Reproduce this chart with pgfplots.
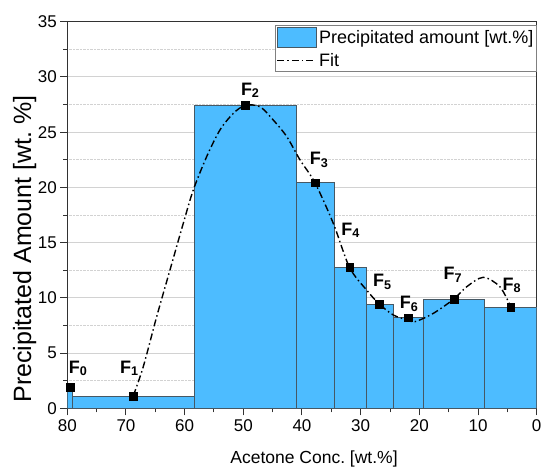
\documentclass[border=0pt]{standalone}
\usepackage{fontspec}
\setmainfont{Liberation Sans}
\usepackage{pgfplots}
\pgfplotsset{compat=1.18}
\usepackage{pgfplotstable}
\frenchspacing

\definecolor{barblue}{RGB}{77,188,255}
\definecolor{baredge}{RGB}{70,88,100}
\definecolor{axisgray}{RGB}{50,50,50}
\definecolor{gridgray}{RGB}{210,210,210}

\tikzset{
  barstyle/.style={fill=barblue, draw=baredge, line width=0.6pt},
  fitstyle/.style={black, line width=1.4pt, dash pattern=on 7pt off 3pt on 1.5pt off 3pt},
}
\pgfplotsset{
  bar legend/.style={legend image code/.code={\draw[barstyle] (0pt,-10pt) rectangle (39pt,10pt);}},
  fit legend/.style={legend image code/.code={\draw[fitstyle] (0pt,0pt) -- (39pt,0pt);}},
}

% fraction marks F0..F8 with label offsets (pt)
\pgfplotstableread{
x     y     dx   dy   lab
79.5  1.90  8    19   0
68.75 1.08  -4   28   1
49.67 27.43 5    15   2
37.75 20.42 4    23   3
31.9  12.76 1    37   4
26.83 9.44  3    22   5
21.9  8.20  1    14   6
14.1  9.90  -1   24   7
4.4   9.14  1    22   8
}\fractions

% fitted curve through the fractions
\pgfplotstableread{
x     y
68.75 1.14
67.05 3.77
64.77 8.29
62.5  12.52
60.23 16.75
58.53 19.76
56.25 22.78
53.98 25.20
51.7  26.70
49.67 27.43
47.17 27.30
44.9  26.10
42.6  24.60
40.35 22.50
37.79 20.42
34.67 16.75
31.9  12.76
28.98 10.70
26.83 9.44
24.44 8.45
22.05 8.00
20.7  7.85
17.6  8.60
14.1  9.90
11.94 11.00
9.1   11.86
6.26  11.00
4.43  9.20
}\fitcurve

\begin{document}
\begin{tikzpicture}
\useasboundingbox (-67.3pt,-58.7pt) rectangle (473.7pt,408.3pt);
\begin{axis}[
  scale only axis,
  width=469.4pt, height=386.6pt,
  xmin=0, xmax=80, x dir=reverse,
  ymin=0, ymax=35,
  xtick={0,10,...,80}, ytick={0,5,...,35},
  minor x tick num=1, minor y tick num=1,
  tick align=outside,
  xtick pos=bottom, ytick pos=left,
  major tick length=7pt, minor tick length=4pt,
  every tick/.style={axisgray, line width=1pt},
  axis line style={axisgray, line width=1.3pt},
  ymajorgrids, yminorgrids,
  major grid style={gridgray, line width=0.9pt},
  minor grid style={gridgray, densely dotted, line width=0.7pt},
  /pgf/number format/assume math mode=true,
  tick label style={font=\fontsize{17}{20}\selectfont},
  xticklabel style={yshift=-1pt},
  yticklabel style={xshift=0pt},
  xlabel={Acetone Conc. [wt.\%]},
  ylabel={Precipitated Amount [wt. \%]},
  xlabel style={font=\fontsize{17.5}{20}\selectfont, at={(axis description cs:0.5256,-0.1415)}, anchor=base},
  ylabel style={font=\fontsize{25}{29}\selectfont, at={(axis description cs:-0.0773,0.412)}, anchor=base},
  legend style={at={(axis description cs:1,1)}, anchor=north east, yshift=-3.3pt,
    draw=gray, fill=white, line width=0.8pt, font=\fontsize{18}{21}\selectfont,
    inner xsep=1pt, inner ysep=2pt, row sep=3pt},
  legend cell align=left,
]
% bars, one rectangle per concentration interval
\addplot[barstyle, bar legend]
  coordinates {(80,0) (80,1.90) (79.2,1.90) (79.2,0)} -- cycle;
\addlegendentry{Precipitated amount [wt.\%]}
\addplot[barstyle, forget plot]
  coordinates {(79.2,0) (79.2,1.08) (58.4,1.08) (58.4,0)} -- cycle;
\addplot[barstyle, forget plot]
  coordinates {(58.4,0) (58.4,27.43) (40.9,27.43) (40.9,0)} -- cycle;
\addplot[barstyle, forget plot]
  coordinates {(40.9,0) (40.9,20.42) (34.55,20.42) (34.55,0)} -- cycle;
\addplot[barstyle, forget plot]
  coordinates {(34.55,0) (34.55,12.76) (28.98,12.76) (28.98,0)} -- cycle;
\addplot[barstyle, forget plot]
  coordinates {(28.98,0) (28.98,9.42) (24.44,9.42) (24.44,0)} -- cycle;
\addplot[barstyle, forget plot]
  coordinates {(24.44,0) (24.44,8.20) (19.27,8.20) (19.27,0)} -- cycle;
\addplot[barstyle, forget plot]
  coordinates {(19.27,0) (19.27,9.90) (9.0,9.90) (9.0,0)} -- cycle;
\addplot[barstyle, forget plot]
  coordinates {(9.0,0) (9.0,9.14) (0,9.14) (0,0)} -- cycle;

% fit
\addplot[fitstyle, smooth, no markers, fit legend]
  table[x=x, y=y] {\fitcurve};
\addlegendentry{Fit}

% fraction markers with labels
\addplot[only marks, mark=square*, mark size=3.8pt, black, forget plot,
  point meta=explicit symbolic,
  visualization depends on={\thisrow{dx} \as \dx},
  visualization depends on={\thisrow{dy} \as \dy},
  nodes near coords={\textbf{F}\textsubscript{\textbf{\pgfplotspointmeta}}},
  every node near coord/.append style={anchor=center, xshift=\dx pt, yshift=\dy pt,
    font=\fontsize{18}{21}\selectfont, black}]
  table[x=x, y=y, meta=lab] {\fractions};
\end{axis}
\end{tikzpicture}
\end{document}
